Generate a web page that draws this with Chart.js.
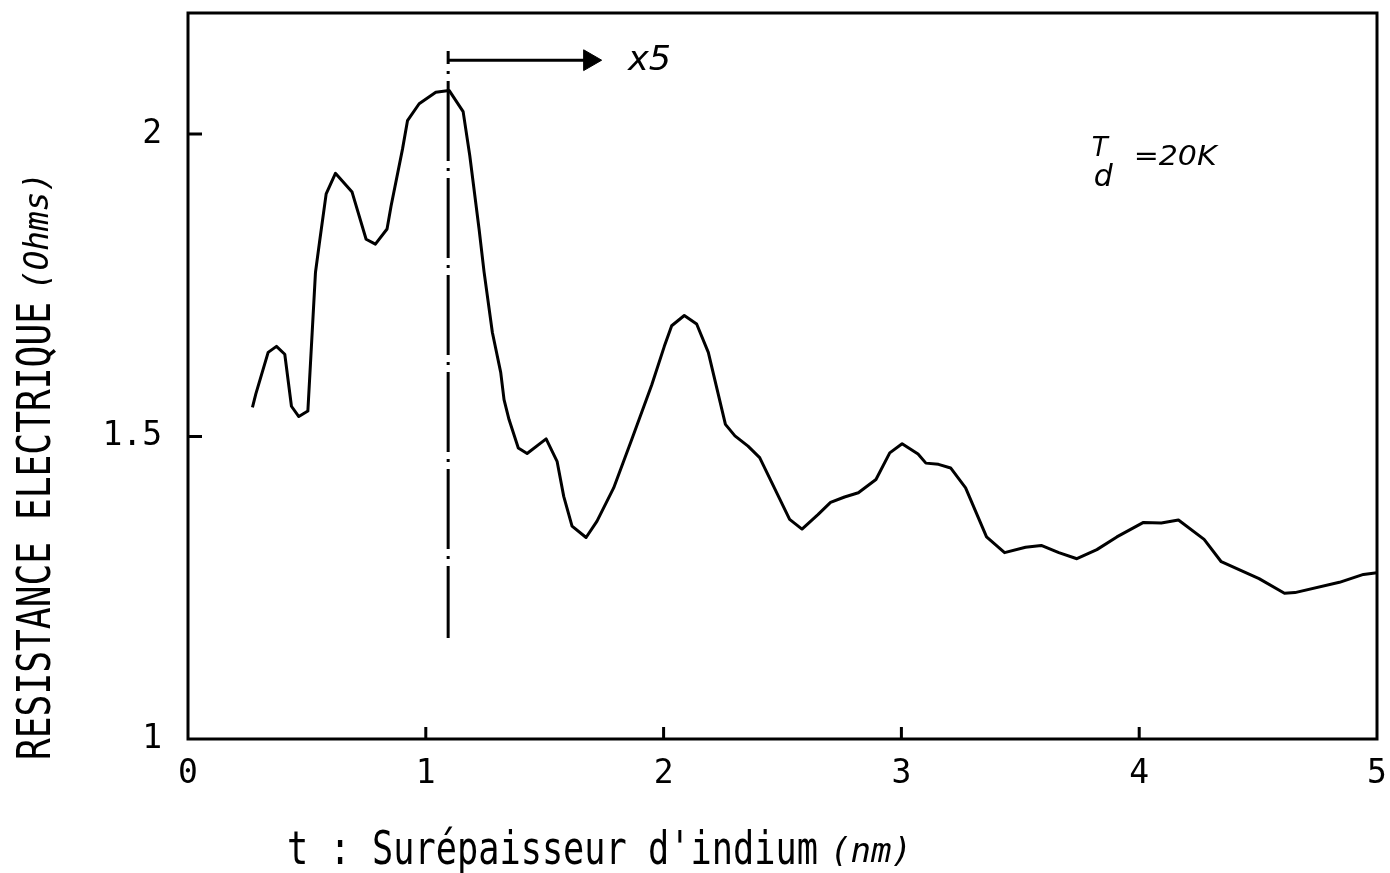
<!DOCTYPE html>
<html><head><meta charset="utf-8">
<script src="https://cdn.jsdelivr.net/npm/chart.js@4/dist/chart.umd.min.js"></script>
<style>html,body{margin:0;padding:0;background:#fff;overflow:hidden}</style>
</head><body>
<canvas id="c" width="1390" height="873"></canvas>
<script>
// ---- data ----
const thickness = [0.271,0.285,0.337,0.372,0.407,0.435,0.466,0.504,0.536,0.553,0.581,0.620,0.690,0.749,0.788,0.837,0.854,0.902,0.923,0.972,1.042,1.098,1.157,1.185,1.224,1.245,1.280,1.315,1.329,1.350,1.389,1.426,1.506,1.552,1.580,1.615,1.674,1.720,1.790,1.866,1.950,2.003,2.034,2.087,2.139,2.188,2.260,2.300,2.355,2.404,2.530,2.582,2.649,2.702,2.761,2.819,2.893,2.951,3.003,3.070,3.103,3.156,3.207,3.270,3.358,3.434,3.522,3.588,3.662,3.738,3.822,3.906,4.018,4.093,4.165,4.273,4.345,4.504,4.611,4.655,4.842,4.943,5.000];
const resistance = [1.548,1.570,1.639,1.649,1.636,1.550,1.533,1.542,1.771,1.821,1.901,1.935,1.904,1.826,1.818,1.843,1.881,1.975,2.022,2.050,2.069,2.072,2.037,1.964,1.843,1.772,1.672,1.606,1.561,1.528,1.481,1.472,1.496,1.459,1.401,1.352,1.333,1.360,1.415,1.495,1.585,1.649,1.683,1.700,1.686,1.639,1.520,1.501,1.484,1.465,1.363,1.347,1.371,1.391,1.400,1.407,1.429,1.473,1.488,1.471,1.456,1.454,1.448,1.415,1.334,1.308,1.317,1.320,1.308,1.298,1.313,1.334,1.358,1.357,1.362,1.330,1.293,1.265,1.241,1.242,1.259,1.272,1.275];
const xTickValues = [0,1,2,3,4,5];
const yTickValues = [1,1.5,2];
const xInnerTicks = [1,2,3,4];
const yInnerTicks = [1.5,2];
const markerT = [1.094,1.094];
const markerR = [2.137,1.167];
const arrowT = [1.094,1.689];
const arrowR = [2.122,2.122];
const xLabel = "t : Surépaisseur d'indium";
const xUnit = "(nm)";
const yLabel = "RESISTANCE ELECTRIQUE";
const yUnit = "(Ohms)";
const factorText = "x5";
const tempSymbol = "T";
const tempSub = "d";
const tempValue = "=20K";

const MONO = '"DejaVu Sans Mono", "Liberation Mono", monospace';
const SANS = '"DejaVu Sans", "Liberation Sans", sans-serif';
const NO_PAD = () => ({left: 0, top: 0, right: 0, bottom: 0});

function drawStretched(ctx, text, x, y, font, width) {
  ctx.font = font;
  const w = ctx.measureText(text).width;
  ctx.save();
  ctx.translate(x, y);
  ctx.scale(width / w, 1);
  ctx.textAlign = 'left';
  ctx.fillText(text, 0, 0);
  ctx.restore();
}

const decor = {
  id: 'decor',
  afterDatasetsDraw(chart) {
    const ctx = chart.ctx, a = chart.chartArea;
    const xs = chart.scales.x, ys = chart.scales.y;
    ctx.save();
    ctx.strokeStyle = '#000';
    ctx.lineWidth = 3;
    ctx.strokeRect(a.left, a.top, a.right - a.left, a.bottom - a.top);
    ctx.beginPath();
    xInnerTicks.forEach(v => {
      const px = xs.getPixelForValue(v);
      ctx.moveTo(px, a.bottom); ctx.lineTo(px, a.bottom - 12);
    });
    yInnerTicks.forEach(v => {
      const py = ys.getPixelForValue(v);
      ctx.moveTo(a.left, py); ctx.lineTo(a.left + 14, py);
    });
    ctx.stroke();
    ctx.restore();
  },
  afterDraw(chart) {
    const ctx = chart.ctx;
    const xs = chart.scales.x, ys = chart.scales.y;
    ctx.save();
    ctx.fillStyle = '#000';
    ctx.textBaseline = 'alphabetic';
    // y axis title
    ctx.save();
    ctx.translate(50, 760);
    ctx.rotate(-Math.PI / 2);
    drawStretched(ctx, yLabel, 0, 0, '46px ' + MONO, 458);
    drawStretched(ctx, yUnit, 470, -2, 'italic 34px ' + MONO, 118);
    ctx.restore();
    // x axis title
    drawStretched(ctx, xLabel, 287, 864, '46px ' + MONO, 531);
    drawStretched(ctx, xUnit, 830, 862, 'italic 34px ' + MONO, 82);
    // annotations
    const fx = xs.getPixelForValue(1.85), fy = ys.getPixelForValue(2.105);
    drawStretched(ctx, factorText, fx, fy, 'italic 34px ' + SANS, 43);
    const tx = xs.getPixelForValue(3.80), ty = ys.getPixelForValue(1.963);
    drawStretched(ctx, tempSymbol, tx, ty, 'italic 26px ' + SANS, 16);
    drawStretched(ctx, tempSub, tx + 2, ty + 30, 'italic 30px ' + SANS, 19);
    drawStretched(ctx, tempValue, tx + 42, ty + 9, 'italic 27px ' + SANS, 83);
    ctx.restore();
  }
};

new Chart(document.getElementById('c'), {
  type: 'scatter',
  data: {
    datasets: [
      {
        data: thickness.map((t, i) => ({x: t, y: resistance[i]})),
        showLine: true, borderColor: '#000', borderWidth: 3, pointRadius: 0, tension: 0,
        borderJoinStyle: 'round'
      },
      {
        data: markerT.map((t, i) => ({x: t, y: markerR[i]})),
        showLine: true, borderColor: '#000', borderWidth: 3, pointRadius: 0,
        borderDash: [80, 7, 3, 7], borderDashOffset: 67
      },
      {
        data: arrowT.map((t, i) => ({x: t, y: arrowR[i]})),
        showLine: true, borderColor: '#000', borderWidth: 3,
        pointRadius: [0, 12], pointStyle: 'triangle', pointRotation: 90,
        pointBackgroundColor: '#000', pointBorderColor: '#000', pointBorderWidth: 1
      }
    ]
  },
  options: {
    responsive: false,
    animation: false,
    devicePixelRatio: 1,
    layout: {padding: {top: 13, right: 9, left: 0, bottom: 0}},
    plugins: {legend: {display: false}, tooltip: {enabled: false}},
    scales: {
      x: {
        type: 'linear', min: 0, max: 5,
        afterBuildTicks: s => { s.ticks = xTickValues.map(v => ({value: v})); },
        afterFit: s => { s.height = 134; s.paddingLeft = 0; s.paddingRight = 0; s.getPadding = NO_PAD; },
        grid: {display: false, drawTicks: false},
        border: {display: false},
        ticks: {color: '#000', padding: 16, font: {family: MONO, size: 33}, maxRotation: 0,
                callback: v => String(v)}
      },
      y: {
        type: 'linear', min: 1, max: 2.2,
        afterBuildTicks: s => { s.ticks = yTickValues.map(v => ({value: v})); },
        afterFit: s => { s.width = 188; s.paddingTop = 0; s.paddingBottom = 0; s.getPadding = NO_PAD; },
        grid: {display: false, drawTicks: false},
        border: {display: false},
        ticks: {color: '#000', padding: 26, font: {family: MONO, size: 33},
                callback: v => String(v)}
      }
    }
  },
  plugins: [decor]
});
</script>
</body></html>
